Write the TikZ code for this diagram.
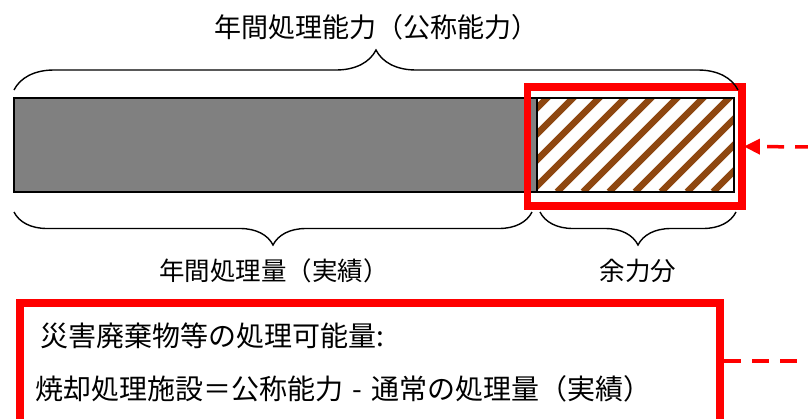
\documentclass[tikz,border=0pt]{standalone}
\usepackage{fontspec}
\newfontfamily\jpfont{Noto Sans CJK JP}
\usepackage{xcolor}
\usepackage{tikz}
\usetikzlibrary{arrows.meta,decorations.pathreplacing,positioning}
\definecolor{barGray}{HTML}{808080}
\definecolor{hatchBrown}{HTML}{8E4710}
\definecolor{markRed}{HTML}{FF0000}

\begin{document}
\begin{tikzpicture}[x=1pt,y=-1pt,
  bar/.style={draw=black,line width=1.4pt,inner sep=0pt,outer sep=0pt,minimum height=94pt},
  frame/.style={draw=markRed,inner sep=0pt},
  capBrace/.style={decorate,decoration={brace,amplitude=#1},line width=1.4pt},
  label/.style={font=\jpfont\fontsize{25.5pt}{30pt}\selectfont,inner sep=0pt},
  formula/.style={font=\jpfont\fontsize{28pt}{32pt}\selectfont,inner sep=0pt,anchor=west},
  dashLine/.style={markRed,line width=3.5pt,dash pattern=on 17pt off 11pt}]
\useasboundingbox (0,0) rectangle (808,418);

% annual throughput and spare capacity
\node[bar,fill=barGray,minimum width=523pt,anchor=north west] (used) at (14,98) {};
\node[bar,minimum width=197pt,anchor=west,
  path picture={
    \foreach \d in {-110,-84,...,200}
      \draw[hatchBrown,line width=6.5pt]
        ([xshift=\d pt]path picture bounding box.south west) -- ++(110pt,110pt);
  }] (spare) at (used.east) {};

% red frame round the spare part
\node[frame,line width=7.5pt,minimum width=214.5pt,minimum height=119pt] (focus) at (634.8,146.5) {};
\coordinate (arrFrom) at (812,147);
\draw[dashLine,-{Triangle[length=16pt,width=15pt]},shorten >=-2pt] (arrFrom) -- (focus.east);

% braces and their labels
\draw[capBrace=40pt] ([yshift=8pt]used.north west) -- ([xshift=4pt,yshift=8pt]spare.north east);
\draw[capBrace=33pt] ([xshift=-5pt,yshift=-20pt]used.south east) -- ([yshift=-20pt]used.south west);
\draw[capBrace=33pt] ([xshift=2pt,yshift=-20pt]spare.south east) -- ([xshift=3pt,yshift=-20pt]spare.south west);
\node[label,font=\jpfont\fontsize{27pt}{30pt}\selectfont] (capacity) at (376,27) {年間処理能力（公称能力）};
\node[label] (actual) at (274,271) {年間処理量（実績）};
\node[label] (margin) at (638,271) {余力分};

% formula box
\node[frame,line width=8pt,minimum width=700pt,minimum height=120pt,anchor=north west] (box) at (16,299) {};
\node[formula] (line1) at (40,336) {災害廃棄物等の処理可能量:};
\node[formula] (line2) at (35,389) {焼却処理施設＝公称能力\makebox[1em]{-}通常の処理量（実績）};
\coordinate (lineEnd) at (812,361);
\draw[dashLine] (box.east |- lineEnd) -- (lineEnd);
\end{tikzpicture}
\end{document}
